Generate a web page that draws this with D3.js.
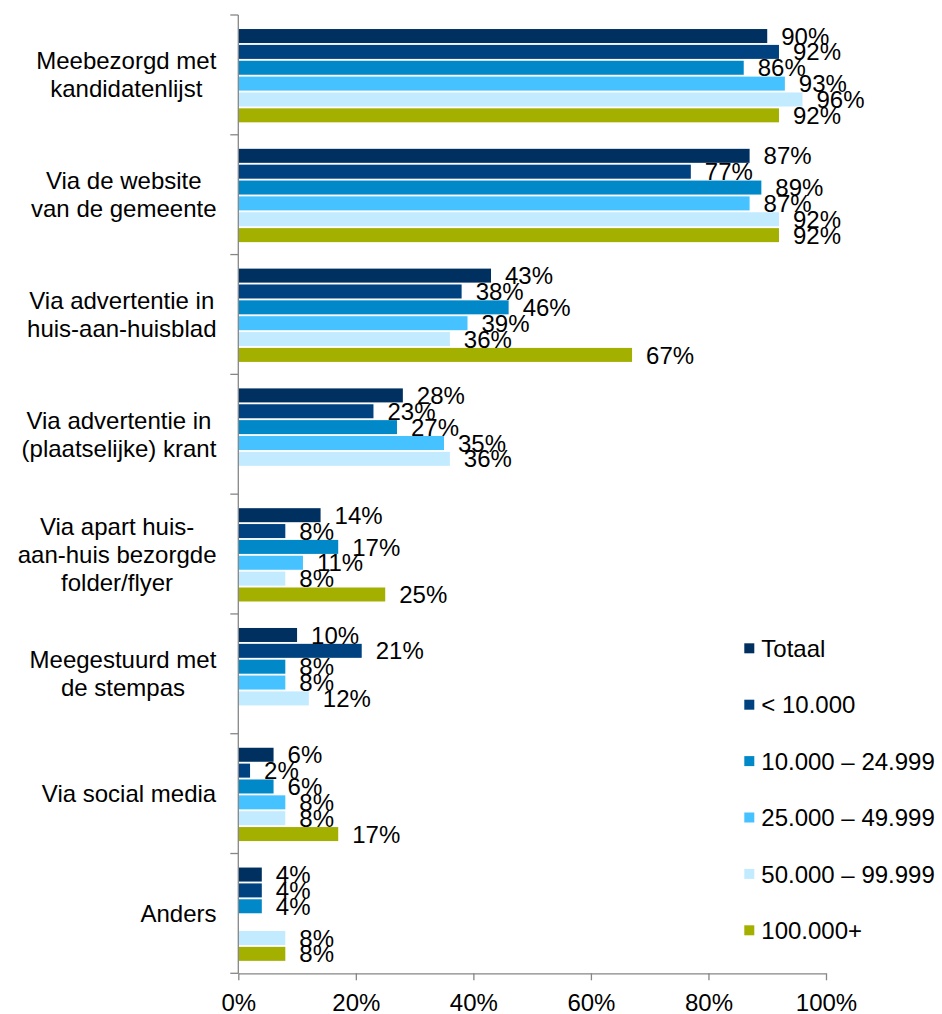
<!DOCTYPE html>
<html>
<head>
<meta charset="utf-8">
<script src="https://cdn.jsdelivr.net/npm/d3@7"></script>
<style>
    body { margin: 0; background: #fff; }
    text { font-family: "Liberation Sans", Arial, sans-serif; fill: #000; }
    .axis-line { stroke: #868686; stroke-width: 1.3; }
</style>
</head>
<body>
<div id="chart"></div>
<script>
const width = 942;
const height = 1014;

const margin = {
    top: 15,
    right: 116,
    bottom: 40.7,
    left: 238.3
};

////////////////////////////////////////////////////////
// DATA
////////////////////////////////////////////////////////

const categories = [
    "Meebezorgd met\nkandidatenlijst",
    "Via de website\nvan de gemeente",
    "Via advertentie in\nhuis-aan-huisblad",
    "Via advertentie in\n(plaatselijke) krant",
    "Via apart huis-\naan-huis bezorgde\nfolder/flyer",
    "Meegestuurd met\nde stempas",
    "Via social media",
    "Anders"
];

const seriesNames = [
    "Totaal",
    "< 10.000",
    "10.000 – 24.999",
    "25.000 – 49.999",
    "50.000 – 99.999",
    "100.000+"
];

const seriesColors = ["#00305f", "#00427f", "#0088c8", "#45c2ff", "#c2ebff", "#a3b000"];

const totaal        = [90, 87, 43, 28, 14, 10, 6, 4];
const onder10k      = [92, 77, 38, 23, 8, 21, 2, 4];
const van10kTot25k  = [86, 89, 46, 27, 17, 8, 6, 4];
const van25kTot50k  = [93, 87, 39, 35, 11, 8, 8, null];
const van50kTot100k = [96, 92, 36, 36, 8, 12, 8, 8];
const boven100k     = [92, 92, 67, null, 25, null, 17, 8];

const xTicks = [0, 20, 40, 60, 80, 100];

const series = [totaal, onder10k, van10kTot25k, van25kTot50k, van50kTot100k, boven100k];

const bars = [];
categories.forEach((c, ci) => {
    series.forEach((s, si) => {
        if (s[ci] != null) bars.push({ cat: c, serie: si, value: s[ci] });
    });
});

////////////////////////////////////////////////////////
// SCALES
////////////////////////////////////////////////////////

const svg = d3.select("#chart")
    .append("svg")
    .attr("width", width)
    .attr("height", height);

const x = d3.scaleLinear()
    .domain([0, 100])
    .range([margin.left, width - margin.right]);

const y = d3.scaleBand()
    .domain(categories)
    .range([margin.top, height - margin.bottom])
    .padding(0);

const yInner = d3.scaleBand()
    .domain(d3.range(seriesNames.length))
    .range([0, y.bandwidth()])
    .paddingInner(0.117)
    .paddingOuter(0.835)
    .align(0.53);

////////////////////////////////////////////////////////
// BARS
////////////////////////////////////////////////////////

svg.selectAll(".bar")
    .data(bars)
    .enter()
    .append("rect")
    .attr("class", "bar")
    .attr("x", x(0))
    .attr("y", d => y(d.cat) + yInner(d.serie))
    .attr("width", d => x(d.value) - x(0))
    .attr("height", yInner.bandwidth())
    .attr("fill", d => seriesColors[d.serie]);

// LABELS
svg.selectAll(".value")
    .data(bars)
    .enter()
    .append("text")
    .attr("class", "value")
    .attr("x", d => x(d.value) + 14)
    .attr("y", d => y(d.cat) + yInner(d.serie) + yInner.bandwidth() / 2 + 8.6)
    .style("font-size", "24px")
    .text(d => d.value + "%");

////////////////////////////////////////////////////////
// AXES
////////////////////////////////////////////////////////

// X AXIS
const xAxis = svg.append("g")
    .attr("transform", `translate(0,${height - margin.bottom})`)
    .call(
        d3.axisBottom(x)
            .tickValues(xTicks)
            .tickSize(7)
            .tickPadding(14)
            .tickSizeOuter(0)
            .tickFormat(d => d + "%")
    );

xAxis.selectAll("path, line").attr("class", "axis-line").attr("stroke", null);
xAxis.selectAll("text")
    .style("font-size", "24px")
    .attr("fill", null);

// Y AXIS
svg.append("line")
    .attr("class", "axis-line")
    .attr("x1", x(0))
    .attr("x2", x(0))
    .attr("y1", margin.top)
    .attr("y2", height - margin.bottom);

const yTicks = categories.map(c => y(c)).concat([height - margin.bottom]);

svg.selectAll(".ytick")
    .data(yTicks)
    .enter()
    .append("line")
    .attr("class", "axis-line")
    .attr("x1", x(0) - 8)
    .attr("x2", x(0))
    .attr("y1", d => d)
    .attr("y2", d => d);

// CATEGORY LABELS (block right aligned, lines centred)
const lineHeight = 28;

svg.selectAll(".cat")
    .data(categories)
    .enter()
    .append("text")
    .attr("class", "cat")
    .attr("text-anchor", "middle")
    .style("font-size", "24px")
    .each(function(c) {
        const lines = c.split("\n");
        const t = d3.select(this);
        const cy = y(c) + y.bandwidth() / 2;
        lines.forEach((l, i) => {
            t.append("tspan")
                .attr("x", 0)
                .attr("y", cy + (i - (lines.length - 1) / 2) * lineHeight + 8.6)
                .text(l);
        });
        const w = this.getBBox().width;
        t.selectAll("tspan").attr("x", 216.5 - w / 2);
    });

////////////////////////////////////////////////////////
// LEGEND
////////////////////////////////////////////////////////

const legend = svg.selectAll(".legend")
    .data(seriesNames)
    .enter()
    .append("g")
    .attr("class", "legend")
    .attr("transform", (d, i) => `translate(744.3,${648.3 + i * 56.4})`);

legend.append("rect")
    .attr("x", 0)
    .attr("y", -5)
    .attr("width", 10)
    .attr("height", 10)
    .attr("fill", (d, i) => seriesColors[i]);

legend.append("text")
    .attr("x", 17)
    .attr("y", 8.6)
    .style("font-size", "24px")
    .text(d => d);
</script>
</body>
</html>
